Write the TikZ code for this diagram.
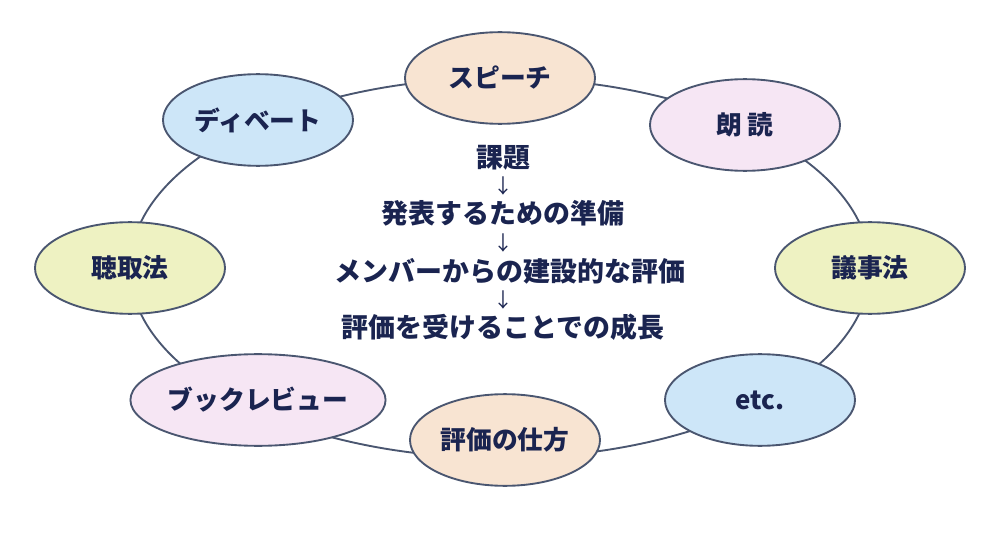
\documentclass[tikz,border=0pt]{standalone}
\usepackage{fontspec}
\setmainfont{Noto Sans CJK JP}
\usetikzlibrary{shapes.geometric}
\definecolor{ringline}{HTML}{4A5670}
\definecolor{inktext}{HTML}{1A2450}
\definecolor{peach}{HTML}{F8E4D2}
\definecolor{lilac}{HTML}{F6E6F4}
\definecolor{lime}{HTML}{EEF2C2}
\definecolor{skyblue}{HTML}{CDE6F8}
\begin{document}
\begin{tikzpicture}[x=0.03cm, y=-0.03cm]
\tikzset{ topic/.style={ellipse, draw=ringline, line width=1.6pt, minimum width=5.7cm, minimum height=2.75cm, inner sep=0pt, text=inktext, font=\bfseries\fontsize{22}{26}\selectfont},
          stage/.style={text=inktext, inner sep=0pt, font=\bfseries\fontsize{23}{26}\selectfont},
          tick/.style={text=inktext, inner sep=0pt, font=\fontsize{17}{18}\selectfont} }
\useasboundingbox (0,0) rectangle (1000,536);
%\draw [lightgray, dashed](0,0) grid (1000,536);

\draw [ringline, line width=1.6pt] (500,268) ellipse [x radius=370, y radius=190];

\node [topic, fill=peach]   (speech) at (500,78)  {スピーチ};
\node [topic, fill=lilac]   (roudoku) at (745,125) {朗 読};
\node [topic, fill=lime]    (gijiho) at (870,268) {議事法};
\node [topic, fill=skyblue] (etc) at (760,400) {etc.};
\node [topic, fill=peach]   (hyoka) at (505,440) {評価の仕方};
\node [topic, fill=lilac]   (book) at (258,400) {ブックレビュー};
\node [topic, fill=lime]    (choshu) at (130,268) {聴取法};
\node [topic, fill=skyblue] (debate) at (258,120) {ディベート};

\node [stage] (kadai) at (503,158) {課題};
\node [tick] (a1) at (503,186) {↓};
\node [stage] (junbi) at (503,213) {発表するための準備};
\node [tick] (a2) at (503,243) {↓};
\node [stage] (member) at (510,271) {メンバーからの建設的な評価};
\node [tick] (a3) at (503,300) {↓};
\node [stage] (seicho) at (503,327) {評価を受けることでの成長};

\end{tikzpicture}
\end{document}
